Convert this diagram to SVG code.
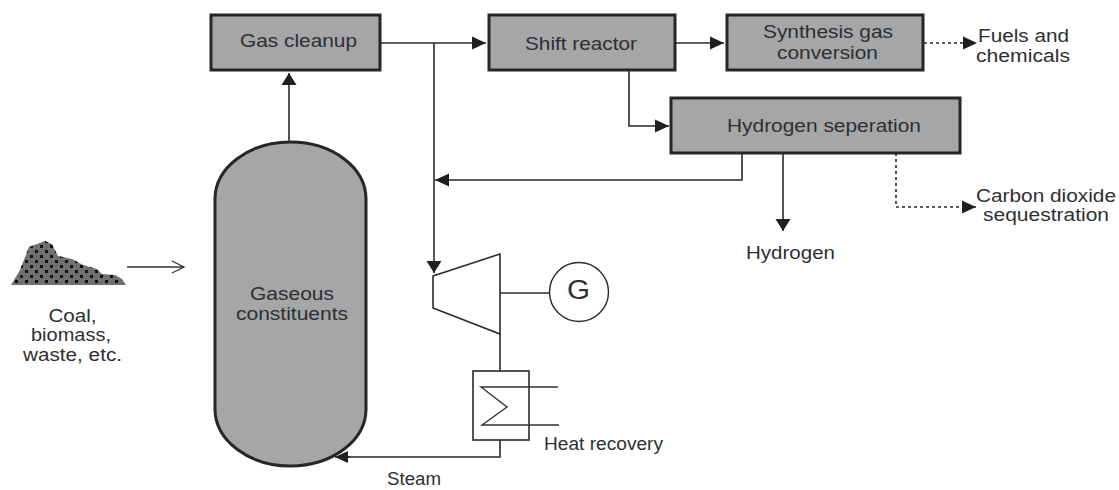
<svg xmlns="http://www.w3.org/2000/svg" width="1119" height="490" viewBox="0 0 1119 490">
<style>
text{font-family:"Liberation Sans",Arial,sans-serif;font-size:17.5px;fill:#2f2f31;text-anchor:middle;transform:translateY(1px)}
.box{fill:#a4a6a8;stroke:#262626;stroke-width:3}
.l{fill:none;stroke:#2a2a2a;stroke-width:1.6}
.d{fill:none;stroke:#2a2a2a;stroke-width:1.6;stroke-dasharray:3 3}
.t{fill:none;stroke:#333;stroke-width:1.4}
</style>
<defs>
<marker id="a" markerUnits="userSpaceOnUse" markerWidth="15" markerHeight="14" refX="14" refY="7" orient="auto"><path d="M0,0.5L14,7L0,13.5Z" fill="#231f20"/></marker>
<marker id="v" markerUnits="userSpaceOnUse" markerWidth="13" markerHeight="16" refX="12" refY="8" orient="auto"><path d="M0,0.5L12,8L0,15.5Z" fill="#231f20"/></marker>
<marker id="s" markerUnits="userSpaceOnUse" markerWidth="14" markerHeight="13" refX="13" refY="6.500" orient="auto"><path d="M0,0.5L13,6.500L0,12.500Z" fill="#231f20"/></marker>
<marker id="o" markerUnits="userSpaceOnUse" markerWidth="16" markerHeight="14" refX="14" refY="7" orient="auto"><path d="M2,1L14,7L2,13" fill="none" stroke="#333" stroke-width="1.3"/></marker>
<pattern id="dots" patternUnits="userSpaceOnUse" x="20" y="245" width="10" height="10"><rect x="0" y="0" width="3" height="3" fill="#111"/><rect x="5" y="5" width="3" height="3" fill="#111"/></pattern>
</defs>
<g id="connectors">
<path class="l" marker-end="url(#v)" d="M289,142V73"/>
<path class="l" marker-end="url(#a)" d="M381,43H486"/>
<path class="l" marker-end="url(#v)" d="M434,43V273"/>
<path class="l" marker-end="url(#a)" d="M676,43H724"/>
<path class="d" marker-end="url(#a)" d="M924,43H977"/>
<path class="l" marker-end="url(#a)" d="M629,70V126H669"/>
<path class="l" marker-end="url(#a)" d="M742,153V180H435"/>
<path class="l" marker-end="url(#v)" d="M783,153V231"/>
<path class="d" marker-end="url(#a)" d="M896,153V207H976"/>
<path class="t" marker-end="url(#o)" d="M127,267H184"/>
<path class="l" d="M500,334V371"/>
<path class="l" d="M500,293H549"/>
<path class="l" d="M500,440V457H340"/>
</g>
<g id="feedstock">
<path d="M11,285L20,270L29,247L45,241L52,244L58,256L72,259L83,265L97,269L102,274L115,275L122,279L126,285Z" fill="#6e7072"/>
<path d="M11,285L20,270L29,247L45,241L52,244L58,256L72,259L83,265L97,269L102,274L115,275L122,279L126,285Z" fill="url(#dots)"/>
<text x="72.500" y="321" textLength="48" lengthAdjust="spacingAndGlyphs">Coal,</text>
<text x="71" y="340" textLength="80" lengthAdjust="spacingAndGlyphs">biomass,</text>
<text x="72.500" y="360" textLength="99" lengthAdjust="spacingAndGlyphs">waste, etc.</text>
</g>
<g id="gaseous-constituents">
<rect class="box" x="215" y="142" width="151" height="324" rx="75.500" ry="57"/>
<text x="292" y="299" textLength="84" lengthAdjust="spacingAndGlyphs">Gaseous</text>
<text x="292" y="318.500" textLength="112" lengthAdjust="spacingAndGlyphs">constituents</text>
</g>
<path class="l" marker-end="url(#s)" d="M350,457H335"/>
<g id="gas-cleanup"><rect class="box" x="211" y="15" width="169" height="55"/><text x="298.500" y="46" textLength="117" lengthAdjust="spacingAndGlyphs">Gas cleanup</text></g>
<g id="shift-reactor"><rect class="box" x="489" y="15" width="186" height="55"/><text x="581" y="49" textLength="112" lengthAdjust="spacingAndGlyphs">Shift reactor</text></g>
<g id="synthesis-gas-conversion"><rect class="box" x="727" y="15" width="196" height="55"/>
<text x="828" y="37" textLength="130" lengthAdjust="spacingAndGlyphs">Synthesis gas</text>
<text x="827.500" y="58" textLength="101" lengthAdjust="spacingAndGlyphs">conversion</text></g>
<g id="hydrogen-separation"><rect class="box" x="671" y="98" width="289" height="55"/><text x="824" y="130.500" textLength="194" lengthAdjust="spacingAndGlyphs">Hydrogen seperation</text></g>
<g id="fuels-label"><text x="1023.500" y="40.500" textLength="91" lengthAdjust="spacingAndGlyphs">Fuels and</text>
<text x="1023" y="60.500" textLength="94" lengthAdjust="spacingAndGlyphs">chemicals</text></g>
<g id="co2-label"><text x="1046" y="200.500" textLength="140" lengthAdjust="spacingAndGlyphs">Carbon dioxide</text>
<text x="1046" y="220" textLength="126" lengthAdjust="spacingAndGlyphs">sequestration</text></g>
<g id="hydrogen-label"><text x="790.500" y="258" textLength="89" lengthAdjust="spacingAndGlyphs">Hydrogen</text></g>
<g id="turbine"><path d="M433,276L500,254V334L433,308Z" fill="#fff" stroke="#2a2a2a" stroke-width="1.6"/></g>
<g id="generator"><circle cx="579" cy="292" r="29.500" fill="#fff" stroke="#2a2a2a" stroke-width="1.4"/><text x="578.500" y="298" textLength="23" lengthAdjust="spacingAndGlyphs" style="font-size:27px">G</text></g>
<g id="heat-recovery">
<rect x="473" y="371" width="56" height="69" fill="#fff" stroke="#2a2a2a" stroke-width="1.6"/>
<path class="t" d="M558,387H481L507,407L482,425H559"/>
<text x="603.500" y="449" textLength="119" lengthAdjust="spacingAndGlyphs">Heat recovery</text>
</g>
<g id="steam-label"><text x="414" y="484" textLength="54" lengthAdjust="spacingAndGlyphs">Steam</text></g>
</svg>
